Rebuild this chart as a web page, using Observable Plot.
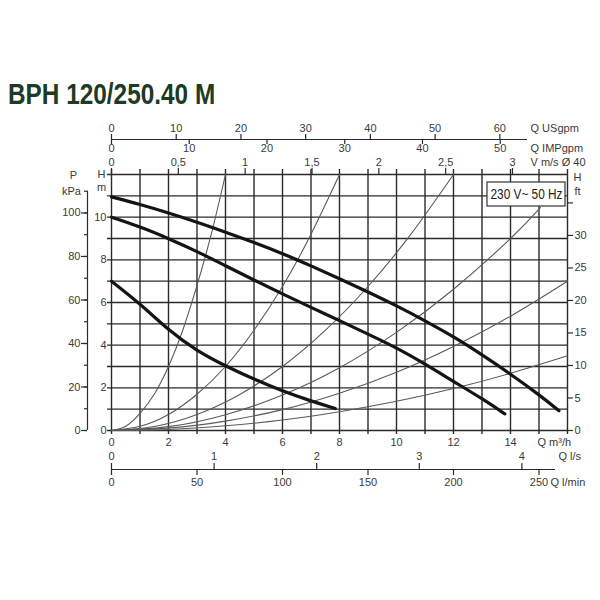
<!DOCTYPE html>
<html>
<head>
<meta charset="utf-8">
<script src="https://cdn.jsdelivr.net/npm/d3@7"></script>
<script src="https://cdn.jsdelivr.net/npm/@observablehq/plot@0.6"></script>
<style>
  html, body { margin: 0; padding: 0; background: #fff; }
  #wrap { position: relative; width: 600px; height: 600px; overflow: hidden; }
  #title { position: absolute; left: 8px; top: 80px; font-family: "Liberation Sans", Arial, sans-serif; font-weight: bold; font-size: 29px; line-height: 1; color: #1d3a24; white-space: nowrap; transform: scaleX(0.84); transform-origin: left top; }
  #chart { position: absolute; left: 0; top: 120px; }
</style>
</head>
<body>
<div id="wrap">
  <div id="title"></div>
  <div id="chart"></div>
</div>
<script>
// ---------- data ----------
const titleText = "BPH 120/250.40 M";
const legendText = "230 V~ 50 Hz";

// pump curves (Q m3/h, H m)
const pumpMaxQ = [0, 1, 2, 3, 4, 5, 6, 7, 8, 9, 10, 11, 12, 13, 14, 15, 15.7];
const pumpMaxH = [10.95, 10.6, 10.2, 9.77, 9.3, 8.82, 8.3, 7.72, 7.12, 6.5, 5.85, 5.15, 4.4, 3.55, 2.65, 1.68, 0.93];
const pumpMidQ = [0, 1, 2, 3, 4, 5, 6, 7, 8, 9, 10, 11, 12, 13, 13.8];
const pumpMidH = [10.0, 9.55, 9.0, 8.4, 7.72, 7.05, 6.4, 5.77, 5.15, 4.52, 3.88, 3.12, 2.3, 1.5, 0.78];
const pumpMinQ = [0, 1, 2, 3, 4, 5, 6, 7, 7.85];
const pumpMinH = [7.0, 5.95, 4.7, 3.72, 3.02, 2.4, 1.85, 1.38, 1.03];

// system (pipe) curves
const sysAQ = [0, 0.5, 1, 1.5, 2, 2.5, 3, 3.5, 4];
const sysAH = [0, 0.2, 0.8, 1.7, 3.0, 4.7, 6.8, 9.2, 12];
const sysBQ = [0, 1, 2, 3, 4, 5, 6, 7, 8];
const sysBH = [0, 0.2, 0.75, 1.7, 3.0, 4.7, 6.75, 9.2, 12];
const sysCQ = [0, 1.5, 3, 4.5, 6, 7.5, 9, 10.5, 12];
const sysCH = [0, 0.19, 0.75, 1.69, 3.0, 4.69, 6.75, 9.19, 12];
const sysDQ = [0, 2, 4, 6, 8, 10, 12, 14, 15.05];
const sysDH = [0, 0.18, 0.74, 1.66, 2.94, 4.6, 6.62, 9.0, 10.45];
const sysEQ = [0, 2, 4, 6, 8, 10, 12, 14, 16];
const sysEH = [0, 0.11, 0.44, 0.98, 1.75, 2.73, 3.94, 5.36, 7.0];
const sysFQ = [0, 2, 4, 6, 8, 10, 12, 14, 16];
const sysFH = [0, 0.05, 0.22, 0.49, 0.88, 1.37, 1.97, 2.68, 3.5];

// ticks
const qGrid = [0,1,2,3,4,5,6,7,8,9,10,11,12,13,14,15,16];
const hGrid = [0,1,2,3,4,5,6,7,8,9,10,11,12];
const qLabels = [0,2,4,6,8,10,12,14];
const hLabels = [0,2,4,6,8,10];
const kpaTicks = [0,10,20,30,40,50,60,70,80,90,100,110];
const kpaLabels = [0,20,40,60,80,100];
const ftTicks = [0,5,10,15,20,25,30,35];
const ftLabels = [0,5,10,15,20,25,30];
const usgpmTicks = [0,10,20,30,40,50,60];
const impgpmTicks = [0,10,20,30,40,50];
const vTicks = [0,0.5,1,1.5,2,2.5,3];
const vLabels = ["0","0,5","1","1,5","2","2,5","3"];
const lsTicks = [0,1,2,3,4];
const lminTicks = [0,50,100,150,200,250];

// unit conversions to m3/h and m
const US = 0.2271, IMP = 0.2728, VMS = 4.69, LS = 3.6, LMIN = 0.06, KPA = 0.10197, FT = 0.3048;

document.getElementById("title").textContent = titleText;

// ---------- layout helpers (page pixels -> data units) ----------
const X0 = 111, X1 = 567, YT = 174, YB = 430, TOP = 120;
const Qat = px => (px - X0) / (X1 - X0) * 16;
const Hat = py => (YB - py) / (YB - YT) * 12;
const C = v => () => v;

const toRows = (qs, hs) => qs.map((q, i) => ({q, h: hs[i]}));
const sysCurves = [[sysAQ, sysAH], [sysBQ, sysBH], [sysCQ, sysCH], [sysDQ, sysDH], [sysEQ, sysEH], [sysFQ, sysFH]];
const pumpCurves = [[pumpMaxQ, pumpMaxH], [pumpMidQ, pumpMidH], [pumpMinQ, pumpMinH]];

const ink = "#2b2b2b", txt = "#3a3a3a";

const marks = [];
// grid
marks.push(Plot.ruleX(qGrid, {x: d => d, y1: C(Hat(434)), y2: C(Hat(169)), stroke: ink, strokeWidth: 1.4}));
marks.push(Plot.ruleY(hGrid, {y: d => d, x1: C(Qat(107)), x2: C(16), stroke: ink, strokeWidth: 1.4}));
// system curves
for (const [qs, hs] of sysCurves) {
  marks.push(Plot.line(toRows(qs, hs), {x: "q", y: "h", curve: "natural", stroke: "#5a5a5a", strokeWidth: 1.1}));
}
// pump curves
for (const [qs, hs] of pumpCurves) {
  marks.push(Plot.line(toRows(qs, hs), {x: "q", y: "h", curve: "basis", stroke: "#141414", strokeWidth: 3.2}));
}
// legend box
marks.push(Plot.rect([legendText], {x1: C(Qat(487)), x2: C(Qat(565)), y1: C(Hat(206)), y2: C(Hat(182)), fill: "#fff", stroke: "#333", strokeWidth: 1.2}));
marks.push(Plot.text([legendText], {x: C(Qat(526)), y: C(Hat(194.5)), text: d => d, fontSize: 14, fill: "#222"}));

// bottom m3/h labels
marks.push(Plot.text(qLabels, {x: d => d, y: C(Hat(442)), text: d => String(d), fill: txt}));
marks.push(Plot.text(["Q m³/h"], {x: C(Qat(537)), y: C(Hat(442)), text: d => d, textAnchor: "start", fill: txt}));
// left H m labels
marks.push(Plot.text(hLabels, {x: C(Qat(106)), y: d => d, text: d => String(d), textAnchor: "end", fill: txt}));
marks.push(Plot.text(["H"], {x: C(Qat(101)), y: C(Hat(174)), text: d => d, fill: txt}));
marks.push(Plot.text(["m"], {x: C(Qat(101)), y: C(Hat(187)), text: d => d, fill: txt}));
// P kPa axis
marks.push(Plot.ruleX([0], {x: C(Qat(87)), y1: C(0), y2: C(110 * KPA), stroke: ink, strokeWidth: 1.2}));
marks.push(Plot.ruleY(kpaTicks, {y: d => d * KPA, x1: C(Qat(84)), x2: C(Qat(87)), stroke: ink, strokeWidth: 1.2}));
marks.push(Plot.ruleY(kpaLabels, {y: d => d * KPA, x1: C(Qat(81)), x2: C(Qat(87)), stroke: ink, strokeWidth: 1.2}));
marks.push(Plot.text(kpaLabels, {x: C(Qat(80)), y: d => d * KPA, text: d => String(d), textAnchor: "end", fill: txt}));
marks.push(Plot.text(["P"], {x: C(Qat(73)), y: C(Hat(175)), text: d => d, fill: txt}));
marks.push(Plot.text(["kPa"], {x: C(Qat(71)), y: C(110 * KPA), text: d => d, fill: txt}));
// right ft axis
marks.push(Plot.ruleY(ftTicks, {y: d => d * FT, x1: C(16), x2: C(Qat(573)), stroke: ink, strokeWidth: 1.2}));
marks.push(Plot.text(ftLabels, {x: C(Qat(574)), y: d => d * FT, text: d => String(d), textAnchor: "start", fill: txt}));
marks.push(Plot.text(["H"], {x: C(Qat(577)), y: C(Hat(177)), text: d => d, fill: txt}));
marks.push(Plot.text(["ft"], {x: C(Qat(577)), y: C(Hat(191)), text: d => d, fill: txt}));

// top: USgpm / IMPgpm axis
marks.push(Plot.ruleY([0], {y: C(Hat(139)), x1: C(0), x2: C(Qat(527)), stroke: ink, strokeWidth: 1.2}));
marks.push(Plot.ruleX(usgpmTicks, {x: d => d * US, y1: C(Hat(139)), y2: C(Hat(134)), stroke: ink, strokeWidth: 1.2}));
marks.push(Plot.text(usgpmTicks, {x: d => d * US, y: C(Hat(128)), text: d => String(d), fill: txt}));
marks.push(Plot.ruleX(impgpmTicks, {x: d => d * IMP, y1: C(Hat(144)), y2: C(Hat(139)), stroke: ink, strokeWidth: 1.2}));
marks.push(Plot.text(impgpmTicks, {x: d => d * IMP, y: C(Hat(148)), text: d => String(d), fill: txt}));
marks.push(Plot.text(["Q USgpm"], {x: C(Qat(530)), y: C(Hat(128)), text: d => d, textAnchor: "start", fill: txt}));
marks.push(Plot.text(["Q IMPgpm"], {x: C(Qat(530)), y: C(Hat(148)), text: d => d, textAnchor: "start", fill: txt}));
// top: velocity axis
marks.push(Plot.ruleX(vTicks, {x: d => d * VMS, y1: C(12), y2: C(Hat(168)), stroke: ink, strokeWidth: 1.2}));
marks.push(Plot.text(vTicks, {x: d => d * VMS, y: C(Hat(162)), text: (d, i) => vLabels[i], fill: txt}));
marks.push(Plot.text(["V m/s Ø 40"], {x: C(Qat(530)), y: C(Hat(162)), text: d => d, textAnchor: "start", fill: txt}));

// bottom: l/s and l/min axis
marks.push(Plot.ruleY([0], {y: C(Hat(469)), x1: C(0), x2: C(Qat(555)), stroke: ink, strokeWidth: 1.2}));
marks.push(Plot.ruleX(lsTicks, {x: d => d * LS, y1: C(Hat(469)), y2: C(Hat(463)), stroke: ink, strokeWidth: 1.2}));
marks.push(Plot.text(lsTicks, {x: d => d * LS, y: C(Hat(456)), text: d => String(d), fill: txt}));
marks.push(Plot.text(["Q l/s"], {x: C(Qat(558)), y: C(Hat(456)), text: d => d, textAnchor: "start", fill: txt}));
marks.push(Plot.ruleX(lminTicks, {x: d => d * LMIN, y1: C(Hat(475)), y2: C(Hat(469)), stroke: ink, strokeWidth: 1.2}));
marks.push(Plot.text(lminTicks, {x: d => d * LMIN, y: C(Hat(482)), text: d => String(d), fill: txt}));
marks.push(Plot.text(["Q l/min"], {x: C(Qat(550)), y: C(Hat(482)), text: d => d, textAnchor: "start", fill: txt}));

const chart = Plot.plot({
  width: 600,
  height: 480,
  marginTop: YT - TOP,
  marginBottom: TOP + 480 - YB,
  marginLeft: X0,
  marginRight: 600 - X1,
  x: {domain: [0, 16], axis: null},
  y: {domain: [0, 12], axis: null},
  style: {fontFamily: "Liberation Sans, Arial, sans-serif", fontSize: "11px", background: "transparent", overflow: "visible"},
  marks
});
// condense the legend label to fit its box, like the narrow font in the original
d3.select(chart).selectAll("text")
  .filter(function() { return this.textContent === legendText; })
  .attr("textLength", 72)
  .attr("lengthAdjust", "spacingAndGlyphs");
document.getElementById("chart").appendChild(chart);
</script>
</body>
</html>
